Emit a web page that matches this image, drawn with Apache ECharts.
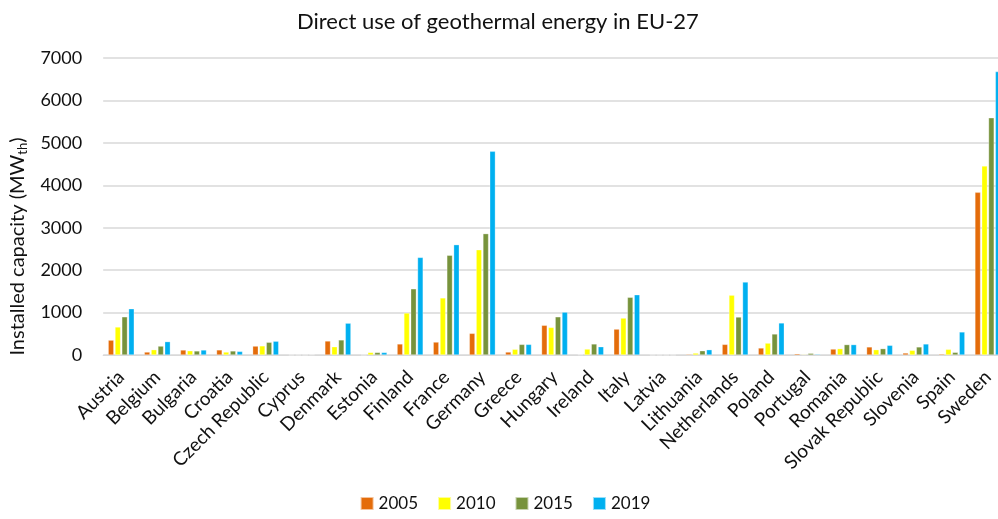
<!DOCTYPE html>
<html>
<head>
<meta charset="utf-8">
<script src="https://cdn.jsdelivr.net/npm/echarts@6/dist/echarts.min.js"></script>
<style>
  html, body { margin: 0; padding: 0; background: #fff; overflow: hidden; }
  /* a bit wider than the window: the last bar is cut off at the right edge */
  #chart { width: 1010px; height: 519px; }
</style>
</head>
<body>
<div id="chart"></div>
<script>
// countries
var countries = ['Austria', 'Belgium', 'Bulgaria', 'Croatia', 'Czech Republic', 'Cyprus', 'Denmark',
  'Estonia', 'Finland', 'France', 'Germany', 'Greece', 'Hungary', 'Ireland', 'Italy', 'Latvia',
  'Lithuania', 'Netherlands', 'Poland', 'Portugal', 'Romania', 'Slovak Republic', 'Slovenia',
  'Spain', 'Sweden'];

// installed capacity, MWth
var y2005 = [350, 70, 118, 120, 210, 0, 330, 0, 260, 305, 510, 70, 700, 10, 610, 0, 20, 250, 165, 30, 140, 190, 47, 24, 3833];
var y2010 = [660, 125, 100, 70, 215, 0, 195, 60, 990, 1345, 2480, 135, 650, 140, 870, 0, 45, 1410, 280, 15, 150, 125, 110, 134, 4455];
var y2015 = [900, 210, 95, 95, 300, 0, 355, 60, 1560, 2350, 2860, 250, 900, 260, 1360, 0, 100, 895, 495, 40, 245, 150, 190, 63, 5590];
var y2019 = [1090, 315, 118, 85, 325, 8, 750, 60, 2300, 2600, 4800, 250, 1010, 195, 1420, 0, 125, 1720, 755, 20, 245, 228, 260, 543, 6680];

var years = ['2005', '2010', '2015', '2019'];
var colors = ['#E46C0A', '#FFFF00', '#77933C', '#00B0F0'];
var yTicks = [0, 1000, 2000, 3000, 4000, 5000, 6000, 7000];

var font = 'Lato, "Open Sans", sans-serif';
var chart = echarts.init(document.getElementById('chart'));

var seriesData = [y2005, y2010, y2015, y2019];
var series = years.map(function (y, i) {
  return {
    name: y,
    type: 'bar',
    data: seriesData[i],
    barGap: '22%',
    barCategoryGap: '28%',
    itemStyle: { color: colors[i], borderColor: 'rgba(255,255,255,0.6)', borderWidth: 0.5 }
  };
});

var option = {
  animation: false,
  textStyle: { fontFamily: font },
  title: {
    text: 'Direct use of geothermal energy in EU-27',
    left: 292,
    top: 6,
    textStyle: { fontFamily: font, fontSize: 22, fontWeight: 'normal', color: '#111' }
  },
  legend: {
    data: years,
    bottom: 2,
    left: 'center',
    icon: 'rect',
    itemWidth: 13,
    itemHeight: 13,
    itemGap: 19,
    textStyle: { fontFamily: font, fontSize: 17, color: '#111' }
  },
  grid: { left: 98, right: 4, top: 58, bottom: 164 },
  xAxis: {
    type: 'category',
    data: countries,
    axisLine: { lineStyle: { color: '#d9d9d9' } },
    axisTick: { show: false },
    axisLabel: { interval: 0, rotate: 45, fontFamily: font, fontSize: 19, color: '#111', margin: 19 }
  },
  yAxis: {
    type: 'value',
    min: yTicks[0],
    max: yTicks[yTicks.length - 1],
    interval: 1000,
    name: '{a|Installed capacity (MW}{b|th}{a|)}',
    nameLocation: 'middle',
    nameGap: 70,
    nameTextStyle: {
      padding: [0, 80, 0, 0],
      rich: {
        a: { fontFamily: font, fontSize: 20, color: '#111' },
        b: { fontFamily: font, fontSize: 13, color: '#111', verticalAlign: 'bottom', padding: [10, 0, 0, 0] }
      }
    },
    axisLabel: {
      fontFamily: font, fontSize: 18, color: '#111', margin: 21,
      formatter: function (v) { return String(v); }
    },
    splitLine: { lineStyle: { color: '#d9d9d9', width: 1.5 } }
  },
  series: series
};

chart.setOption(option);
</script>
</body>
</html>
